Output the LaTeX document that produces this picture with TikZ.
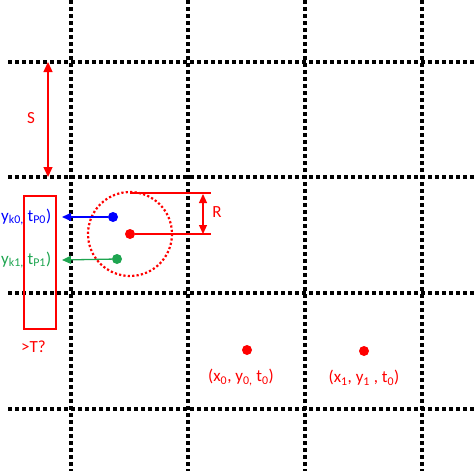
\documentclass[tikz,border=0pt]{standalone}
\usepackage{fontspec}
\setmainfont{Carlito}
\usetikzlibrary{arrows.meta,positioning}
\definecolor{ptgreen}{RGB}{30,165,80}

\begin{document}
\begin{tikzpicture}[x=1pt, y=-1pt, font=\fontsize{17}{19}\selectfont,
    grid/.style={draw, line width=3.5pt, dash pattern=on 3.5pt off 3.5pt},
    dot/.style={circle, fill=#1, inner sep=0pt, minimum size=10pt},
    line/.style={draw, -{Triangle[length=9pt, width=8pt]}, line width=1.3pt},
    dimline/.style={draw=red, line width=1.3pt},
    txt/.style={text=#1, inner sep=0pt}]

    \useasboundingbox (0,0) rectangle (475,471);

    % Grid
    \foreach \gx in {71,188,305,422}
      \path [grid] (\gx,0) -- (\gx,471);
    \foreach \gy in {62,177,293,409}
      \path [grid] (8,\gy) -- (475,\gy);

    % Nodes
    \node [dot=red] (centre) at (130,234) {};
    \node [dot=blue] (pzero) at (113,217) {};
    \node [dot=ptgreen] (pone) at (117,259) {};
    \node [dot=red] (xzero) at (247,350) {};
    \node [dot=red] (xone) at (364,351) {};
    \coordinate (hitzero) at (62,217);
    \coordinate (hitone) at (62,260);
    \coordinate (rtop) at (211,193);
    \coordinate (rbot) at (211,234);
    \coordinate (stop) at (48,62);
    \coordinate (sbot) at (48,177);

    % Search circle and buffer
    \draw [red, line width=2.2pt, dash pattern=on 2.2pt off 2.2pt] (centre) circle (42);
    \draw [red, line width=1.2pt] (24,196) rectangle (56,329);

    % Edges
    \path [line, draw=blue] (pzero) -- (hitzero);
    \path [line, draw=ptgreen] (pone) -- (hitone);
    \path [dimline] (130,193) -- (rtop);
    \path [dimline] (centre) -- (rbot);
    \path [line, draw=red, {Triangle[length=9pt, width=8pt]}-{Triangle[length=9pt, width=8pt]}] (203,194) -- (203,234);
    \path [line, draw=red, {Triangle[length=10pt, width=9pt]}-{Triangle[length=10pt, width=9pt]}] (stop) -- (sbot);

    % Labels
    \node [txt=red] at (31,118) {S};
    \node [txt=red] at (217,212) {R};
    \node [txt=blue, anchor=west] at (1,217) {y\textsubscript{k0,} t\textsubscript{P0})};
    \node [txt=ptgreen, anchor=west] at (1,260) {y\textsubscript{k1,} t\textsubscript{P1})};
    \node [txt=red, anchor=west] at (21,347) {>T?};
    \node [txt=red, below=14pt of xzero, xshift=-6pt] {(x\textsubscript{0}, y\textsubscript{0,} t\textsubscript{0})};
    \node [txt=red, below=14pt of xone] {(x\textsubscript{1}, y\textsubscript{1} , t\textsubscript{0})};
  \end{tikzpicture}
\end{document}
